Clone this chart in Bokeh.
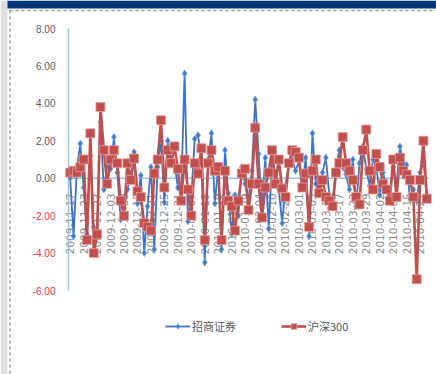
import math
from bokeh.plotting import figure
from bokeh.models import ColumnDataSource, LabelSet, Range1d, Legend, LegendItem
from bokeh.core.properties import value
from bokeh.embed import file_html
from bokeh.resources import INLINE

# ---- data (daily % change) ----
zhaoshang = [0.0, -3.1, 0.5, 1.85, -0.5, -3.0, 1.2, -2.6, -3.0, 3.0,
             -0.6, 0.6, 0.5, 2.2, 0.3, -2.2, -1.6, -0.6, 0.2, 1.4,
             -1.35, 0.15, -4.0, -1.5, 0.6, -3.8, 0.6, 2.0, -1.3, 2.0,
             1.0, 0.8, -0.5, -0.8, 5.6, -2.3, -1.0, 2.1, 2.3, 0.9,
             -4.5, 1.0, 2.4, -1.35, 0.6, -3.8, 1.5, -0.8, -3.0, -0.9,
             -2.0, 0.6, -0.3, -1.2, 0.4, 4.2, 1.3, -1.6, 1.1, -2.7,
             0.9, 0.3, -0.6, -2.4, -0.4, 0.8, 1.0, 0.4, 0.9, -0.5,
             1.1, -3.1, 2.4, -0.3, -0.8, 0.3, 1.1, -0.9, -1.2, 0.5,
             1.5, 0.6, 0.2, -0.6, 1.0, -1.5, 0.8, 1.7, 0.5, -0.4,
             1.0, 0.6, -0.9, 0.3, -0.5, -0.8, 0.6, -0.4, 1.7, 0.8,
             0.7, -1.1, -0.6, -1.2, 0.3, 0.9, -0.9]
hs300 = [0.3, 0.4, 0.3, 0.6, 1.0, -3.3, 2.4, -4.0, -3.0, 3.8,
         1.5, -0.3, 1.0, 1.5, 0.8, -1.2, -2.0, 0.8, -0.1, 1.05,
         -0.7, -1.0, -2.4, -2.6, -2.8, 0.25, 1.0, 3.1, -0.5, 1.5,
         0.8, 1.7, 0.5, -1.2, 1.0, -0.6, -2.0, 0.8, 0.25, 1.6,
         -3.3, 0.8, 1.5, 0.4, 0.6, -3.3, 0.4, -1.2, -1.5, -2.8,
         -1.2, 0.25, 0.5, -1.7, -0.3, 2.7, -0.3, -2.1, -0.5, 0.3,
         1.5, -0.3, 1.0, -0.55, -1.0, 0.8, 1.5, 1.4, 1.1, -0.5,
         0.25, -2.6, 0.4, 1.0, -0.8, -0.1, -1.0, -1.2, -1.5, 0.3,
         0.8, 2.2, 0.8, 0.4, -0.1, -1.0, -1.4, 1.5, 2.6, 0.4,
         -0.6, 1.3, 0.6, -0.3, -0.6, -1.2, 1.0, -1.0, 1.1, 0.4,
         0.2, -0.1, -1.0, -5.4, -0.1, 2.0, -1.1]
tick_labels = ["2009-11-17", "2009-11-23", "2009-11-27", "2009-12-03", "2009-12-09",
               "2009-12-15", "2009-12-21", "2009-12-25", "2009-12-31", "2010-01-07",
               "2010-01-13", "2010-01-19", "2010-01-25", "2010-01-29", "2010-02-04",
               "2010-02-10", "2010-02-23", "2010-03-01", "2010-03-05", "2010-03-11",
               "2010-03-17", "2010-03-23", "2010-03-29", "2010-04-02", "2010-04-09",
               "2010-04-15", "2010-04-21"]
label_every = 4
y_ticks = [8, 6, 4, 2, 0, -2, -4, -6]
y_tick_labels = ["8.00", "6.00", "4.00", "2.00", "0.00", "-2.00", "-4.00", "-6.00"]
y_min, y_max = -6, 8
series_names = ["招商证券", "沪深300"]

n = len(hs300)
xs = list(range(n))

# ---- layout (pixels) ----
W, H = 436, 374
PL, PR, PT, PB = 68, 428, 28, 290          # plot area edges
dx = (PR - PL) / n
dy = (PB - PT) / (y_max - y_min)
def xd(px):
    return -0.5 + (px - PL) / dx
def yd(py):
    return y_max - (py - PT) / dy

p = figure(width=W, height=H, output_backend="svg", toolbar_location=None,
           x_range=Range1d(xd(0), xd(W)), y_range=Range1d(yd(H), yd(0)),
           x_axis_location=None, y_axis_location=None,
           min_border=0, min_border_left=0, min_border_right=0,
           min_border_top=0, min_border_bottom=0)
p.background_fill_color = "white"
p.border_fill_color = "white"
p.outline_line_color = None
p.grid.visible = False

# window decoration: top bar, left strip, dashed frame
p.quad(left=xd(6), right=xd(W), top=yd(0), bottom=yd(8), fill_color="#003478", line_color=None)
p.quad(left=xd(0), right=xd(7), top=yd(0), bottom=yd(H), fill_color="#DEDEDE", line_color=None)
p.segment(x0=[xd(9)], y0=[yd(10)], x1=[xd(W)], y1=[yd(10)], line_color="#9A9A9A",
          line_width=1.5, line_dash="3 3")
p.segment(x0=[xd(9.5)], y0=[yd(10)], x1=[xd(9.5)], y1=[yd(H)], line_color="#9A9A9A",
          line_width=1.5, line_dash="3 3")

# category labels along the zero line (drawn beneath the series)
lab_x = [i * label_every for i in range(len(tick_labels))]
lsrc = ColumnDataSource(dict(x=lab_x, y=[0] * len(lab_x), t=tick_labels))
p.add_layout(LabelSet(x="x", y="y", text="t", source=lsrc, angle=math.pi / 2,
                      text_align="right", text_baseline="middle", y_offset=-15,
                      text_font=value("DejaVu Sans"), text_font_size="10.5px",
                      text_color="#8C8C8C", level="underlay"))

# axes
axis_col = "#9DC3E6"
p.segment(x0=[-0.5], y0=[y_min], x1=[-0.5], y1=[y_max], line_color=axis_col, line_width=1.5)
p.segment(x0=[-0.5], y0=[0], x1=[n - 0.5], y1=[0], line_color=axis_col, line_width=1.5)

src = ColumnDataSource(dict(x=xs, a=zhaoshang, b=hs300))
l1 = p.line("x", "a", source=src, line_color="#3D72C6", line_width=1.8)
m1 = p.scatter("x", "a", source=src, marker="diamond", size=7,
               fill_color="#3F78C4", line_color="#7FA8DA", line_width=0.8)
l2 = p.line("x", "b", source=src, line_color="#C0504D", line_width=2.6)
m2 = p.scatter("x", "b", source=src, marker="square", size=9,
               fill_color="#C0504D", line_color="#E49A98", line_width=0.8)

# value axis labels (negatives in red)
ycol = ["#E03A3A" if v < 0 else "#595959" for v in y_ticks]
ysrc = ColumnDataSource(dict(x=[-0.5] * len(y_ticks), y=y_ticks, t=y_tick_labels, c=ycol))
p.add_layout(LabelSet(x="x", y="y", text="t", source=ysrc, x_offset=-13,
                      text_align="right", text_baseline="middle",
                      text_font=value("Liberation Sans"), text_font_size="10px",
                      text_color="c"))

legend = Legend(items=[LegendItem(label=series_names[0], renderers=[l1, m1]),
                       LegendItem(label=series_names[1], renderers=[l2, m2])],
                location=(165, 40), orientation="horizontal",
                label_text_font="Noto Sans CJK SC", label_text_font_size="11px",
                label_text_color="#595959", glyph_width=25, glyph_height=14,
                label_height=14, label_standoff=2, spacing=45, padding=0, margin=0,
                border_line_color=None, background_fill_alpha=0)
p.add_layout(legend, "center")

open("out.html", "w").write(file_html(p, INLINE))
